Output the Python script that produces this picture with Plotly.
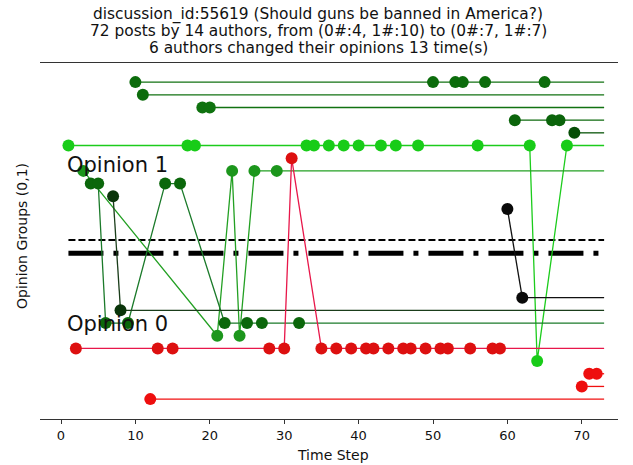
import plotly.graph_objects as go

# ---------------- data ----------------
title_lines = [
    "discussion_id:55619 (Should guns be banned in America?)",
    "72 posts by 14 authors, from (0#:4, 1#:10) to (0#:7, 1#:7)",
    "6 authors changed their opinions 13 time(s)",
]
x_tick_vals = [0, 10, 20, 30, 40, 50, 60, 70]
x_title = "Time Step"
y_title = "Opinion Groups (0,1)"
group_labels = ["Opinion 1", "Opinion 0"]

# time steps of each author's posts
times_a = [10, 50, 53, 54, 57, 65]
times_b = [11]
times_c = [19, 20]
times_d = [61, 66, 67]
times_e = [69]
times_f = [1, 17, 18, 33, 34, 36, 38, 40, 43, 45, 48, 56, 63, 64, 68]
times_g = [3, 21, 23, 24, 26, 29]
times_h = [4, 5, 6, 9, 14, 16, 22, 25, 27, 32]
times_i = [7, 8]
times_j = [2, 13, 15, 28, 30, 31, 35, 37, 39, 41, 42, 44, 46, 47, 49, 51, 52, 55, 58, 59]
times_k = [60, 62]
times_l = [71, 72]
times_m = [70]
times_n = [12]

# opinion (0/1) of each of those posts
ops_a = [1, 1, 1, 1, 1, 1]
ops_b = [1]
ops_c = [1, 1]
ops_d = [1, 1, 1]
ops_e = [1]
ops_f = [1, 1, 1, 1, 1, 1, 1, 1, 1, 1, 1, 1, 1, 0, 1]
ops_g = [1, 0, 1, 0, 1, 1]
ops_h = [1, 1, 0, 0, 1, 1, 0, 0, 0, 0]
ops_i = [1, 0]
ops_j = [0, 0, 0, 0, 0, 1, 0, 0, 0, 0, 0, 0, 0, 0, 0, 0, 0, 0, 0, 0]
ops_k = [1, 0]
ops_l = [0, 0]
ops_m = [0]
ops_n = [0]

# each author's lane inside the opinion groups
lanes = [10, 9, 8, 7, 6, 5, 3, 2, 1, 4, 0, 6, 7, 8]
last_step = 73
split_level = 0.5
mean_level = 0.542

# ---------------- styles ----------------
line_colors = ["#127212", "#127212", "#127212", "#0e6a0e", "#0a560a", "#1ccc1c", "#23a023",
               "#1b7a2a", "#1a3d1a", "#e8174a", "#111111", "#f01010", "#f01010", "#f01010"]
marker_colors = ["#0c6c0c", "#0c6c0c", "#0f720f", "#0b640b", "#064e06", "#18cc18", "#1c961c",
                 "#0b670b", "#0a350a", "#dd1010", "#0a0a0a", "#ee0e0e", "#ee0e0e", "#ee0e0e"]

all_times = [times_a, times_b, times_c, times_d, times_e, times_f, times_g,
             times_h, times_i, times_j, times_k, times_l, times_m, times_n]
all_ops = [ops_a, ops_b, ops_c, ops_d, ops_e, ops_f, ops_g,
           ops_h, ops_i, ops_j, ops_k, ops_l, ops_m, ops_n]

LANE_STEP = 0.04
LANE_BASE = 3.5


def level(op, lane):
    sign = 1 if op == 1 else -1
    return split_level + sign * LANE_STEP * (lane + LANE_BASE)


fig = go.Figure()

# reference lines
fig.add_trace(go.Scatter(x=[1, last_step], y=[mean_level, mean_level], mode="lines",
                         line=dict(color="black", width=2, dash="7px,3px"),
                         hoverinfo="skip", showlegend=False))
fig.add_trace(go.Scatter(x=[1, last_step], y=[split_level, split_level], mode="lines",
                         line=dict(color="black", width=5, dash="35px,10px,5px,10px"),
                         hoverinfo="skip", showlegend=False))

for t, o, lane, lc, mc in zip(all_times, all_ops, lanes, line_colors, marker_colors):
    ys = [level(v, lane) for v in o]
    # tail to the end of the discussion
    fig.add_trace(go.Scatter(x=[t[-1], last_step], y=[ys[-1], ys[-1]], mode="lines",
                             line=dict(color=lc, width=1.3), hoverinfo="skip", showlegend=False))
    fig.add_trace(go.Scatter(x=t, y=ys, mode="lines+markers",
                             line=dict(color=lc, width=1.3),
                             marker=dict(color=mc, size=12, line=dict(width=0)),
                             showlegend=False))

# ---------------- layout ----------------
W, H = 633, 465
ML, MR, MT, MB = 40, 15, 63, 46
PW, PH = W - ML - MR, H - MT - MB


def px_x(p):
    return (p - ML) / PW


def px_y(p):
    return (H - MB - p) / PH


annotations = []
for txt, yy in zip(title_lines, [14, 31, 48]):
    annotations.append(dict(text=txt, x=px_x(318), y=px_y(yy), xref="paper", yref="paper",
                            xanchor="center", yanchor="middle", showarrow=False,
                            font=dict(size=15.4, color="#111")))
annotations.append(dict(text=x_title, x=px_x(333), y=px_y(455), xref="paper", yref="paper",
                        xanchor="center", yanchor="middle", showarrow=False,
                        font=dict(size=14, color="#111")))
annotations.append(dict(text=y_title, x=px_x(22), y=px_y(236), xref="paper", yref="paper",
                        xanchor="center", yanchor="middle", textangle=-90, showarrow=False,
                        font=dict(size=14, color="#111")))
annotations.append(dict(text=group_labels[0], x=0.5, y=0.778, xref="x", yref="y",
                        xanchor="left", yanchor="middle", showarrow=False,
                        font=dict(size=21, color="#111")))
annotations.append(dict(text=group_labels[1], x=0.5, y=0.277, xref="x", yref="y",
                        xanchor="left", yanchor="middle", showarrow=False,
                        font=dict(size=21, color="#111")))

x0_px, x_scale = 61, 7.44
y_mid_px, y_scale = 253.3, 317.0
fig.update_layout(
    width=W, height=H,
    margin=dict(l=ML, r=MR, t=MT, b=MB, pad=0),
    paper_bgcolor="white", plot_bgcolor="white",
    font=dict(family="DejaVu Sans", color="#111"),
    annotations=annotations,
    xaxis=dict(range=[(ML - x0_px) / x_scale, (W - MR - x0_px) / x_scale],
               tickvals=x_tick_vals, ticks="outside", ticklen=4, tickcolor="#333",
               showline=True, linecolor="#333", linewidth=1.2, mirror=True,
               showgrid=False, zeroline=False, tickfont=dict(size=13)),
    yaxis=dict(range=[split_level - (H - MB - y_mid_px) / y_scale,
                      split_level + (y_mid_px - MT) / y_scale],
               showticklabels=False, ticks="", showgrid=False, zeroline=False, showline=False),
)

fig.write_html("out.html", config={"displayModeBar": False},
               post_script="document.body.style.margin='0';document.body.style.padding='0';")
